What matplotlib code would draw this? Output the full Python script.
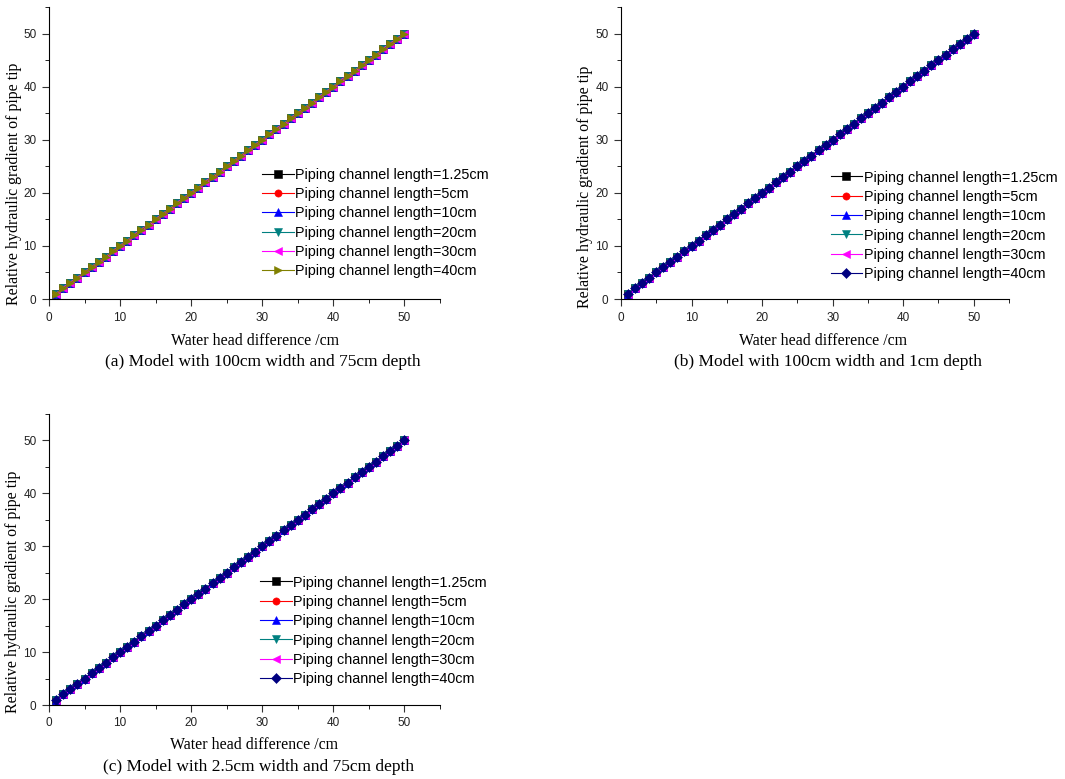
import matplotlib
matplotlib.use("Agg")
import matplotlib.pyplot as plt
import numpy as np
from matplotlib.ticker import MultipleLocator

plt.rcParams.update({
    "font.family": "Liberation Sans",
    "xtick.direction": "out",
    "ytick.direction": "out",
    "xtick.major.size": 5,
    "ytick.major.size": 5,
    "xtick.minor.size": 3,
    "ytick.minor.size": 3,
    "xtick.labelsize": 8.5,
    "ytick.labelsize": 8.5,
})

# ── Data: water head difference (cm) vs relative hydraulic gradient ──────────
head = np.arange(1, 51)
grad_a = [head.copy() for _ in range(6)]   # all six lengths coincide
grad_b = [head.copy() for _ in range(6)]
grad_c = [head.copy() for _ in range(6)]

labels = ["Piping channel length=1.25cm", "Piping channel length=5cm",
          "Piping channel length=10cm", "Piping channel length=20cm",
          "Piping channel length=30cm", "Piping channel length=40cm"]
colors_a = ["black", "red", "blue", "#008080", "magenta", "#808000"]
markers_a = ["s", "o", "^", "v", "<", ">"]
colors_bc = ["black", "red", "blue", "#008080", "magenta", "#000080"]
markers_bc = ["s", "o", "^", "v", "<", "D"]

captions = ["(a) Model with 100cm width and 75cm depth",
            "(b) Model with 100cm width and 1cm depth",
            "(c) Model with 2.5cm width and 75cm depth"]

W, H = 1065, 779
fig = plt.figure(figsize=(W / 100, H / 100), dpi=100)

# axes box in pixels (left, bottom, right, top), legend anchor,
# ylabel centre (px), xlabel centre (px), caption centre (px)
panels = [
    ((49, 299, 440, 7), grad_a, colors_a, markers_a, (0.545, 0.45),
     (14, 184), (255, 341), (263, 362)),
    ((621, 299, 1009, 7), grad_b, colors_bc, markers_bc, (0.54, 0.44),
     (585, 187), (823, 341), (828, 362)),
    ((49, 705, 440, 414), grad_c, colors_bc, markers_bc, (0.54, 0.445),
     (13, 592), (254, 745), (259, 767)),
]

for (box, data, cols, mks, anchor, ylp, xlp, capp), cap in zip(panels, captions):
    l, b, r, t = box
    w, h = r - l, b - t
    ax = fig.add_axes([l / W, 1 - b / H, w / W, h / H])
    for y, c, m, lab in zip(data, cols, mks, labels):
        ax.plot(head, y, color=c, marker=m, markersize=5.2, linewidth=0.8,
                markeredgewidth=0.4, label=lab)
    ax.set_xlim(0, 55)
    ax.set_ylim(0, 55)
    ax.xaxis.set_major_locator(MultipleLocator(10))
    ax.xaxis.set_minor_locator(MultipleLocator(5))
    ax.yaxis.set_major_locator(MultipleLocator(10))
    ax.yaxis.set_minor_locator(MultipleLocator(5))
    for s in ("top", "right"):
        ax.spines[s].set_visible(False)
    ax.tick_params(pad=4, colors="#333333", labelcolor="#222222")
    ax.set_ylabel("Relative hydraulic gradient of pipe tip",
                  family="Liberation Serif", fontsize=11.4)
    ax.yaxis.label.set_va("center")
    ax.yaxis.set_label_coords((ylp[0] - l) / w, (b - ylp[1]) / h)
    ax.set_xlabel("Water head difference /cm",
                  family="Liberation Serif", fontsize=11.4)
    ax.xaxis.label.set_va("center")
    ax.xaxis.set_label_coords((xlp[0] - l) / w, (b - xlp[1]) / h)
    ax.legend(loc="upper left", bbox_to_anchor=anchor, frameon=False,
              fontsize=10.4, handlelength=2.2, handletextpad=0.1,
              labelspacing=0.37, borderpad=0, borderaxespad=0)
    fig.text(capp[0] / W, 1 - capp[1] / H, cap,
             family="Liberation Serif", fontsize=12.5, ha="center", va="center")

fig.savefig("out.png", dpi=100)
